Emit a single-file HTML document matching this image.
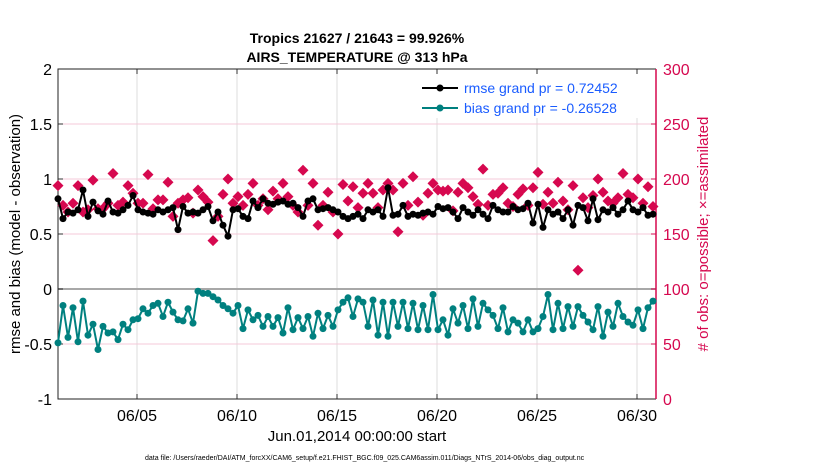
<!DOCTYPE html>
<html><head><meta charset="utf-8"><style>
body{margin:0;background:#fff}
svg text{font-family:"Liberation Sans",Arial,sans-serif}
</style></head><body>
<svg id="chart" width="830" height="470" xmlns="http://www.w3.org/2000/svg">
<rect width="830" height="470" fill="#fff"/>
<text x="357" y="43" text-anchor="middle" font-size="14" font-weight="bold">Tropics 21627 / 21643 = 99.926%</text>
<text x="357" y="62" text-anchor="middle" font-size="14" font-weight="bold">AIRS_TEMPERATURE @ 313 hPa</text>
<g id="grid"></g>
<g id="axes"></g>
<g id="series"></g>
<text transform="translate(20,234) rotate(-90)" text-anchor="middle" font-size="15">rmse and bias (model - observation)</text>
<text transform="translate(708,234) rotate(-90)" text-anchor="middle" font-size="15" fill="#d6084f"># of obs: o=possible; ×=assimilated</text>
<text x="357" y="441" text-anchor="middle" font-size="15">Jun.01,2014 00:00:00 start</text>
<text x="145" y="460" font-size="7">data file: /Users/raeder/DAI/ATM_forcXX/CAM6_setup/f.e21.FHIST_BGC.f09_025.CAM6assim.011/Diags_NTrS_2014-06/obs_diag_output.nc</text>
<g>
<rect x="417" y="74" width="236" height="44" fill="#fff" stroke="none"/>
<line x1="422" y1="88" x2="458" y2="88" stroke="#000" stroke-width="2"/><circle cx="440" cy="88" r="3.5" fill="#000"/>
<text x="464" y="93" font-size="14" fill="#1a5cff">rmse grand pr = 0.72452</text>
<line x1="422" y1="108" x2="458" y2="108" stroke="#00807f" stroke-width="2"/><circle cx="440" cy="108" r="3.5" fill="#00807f"/>
<text x="464" y="113" font-size="14" fill="#1a5cff">bias grand pr = -0.26528</text>
</g>
</svg>
<script>
const rmse=[0.82,0.64,0.70,0.69,0.72,0.90,0.66,0.79,0.71,0.68,0.80,0.70,0.69,0.72,0.76,0.85,0.72,0.70,0.69,0.68,0.72,0.70,0.72,0.74,0.54,0.75,0.69,0.70,0.69,0.72,
0.75,0.62,0.70,0.58,0.48,0.72,0.73,0.66,0.64,0.80,0.74,0.82,0.78,0.77,0.79,0.80,0.77,0.78,0.74,0.66,0.80,0.82,0.72,0.73,0.74,0.72,0.70,0.66,0.64,0.66,
0.68,0.64,0.72,0.70,0.72,0.66,0.92,0.67,0.68,0.76,0.66,0.68,0.67,0.69,0.70,0.68,0.75,0.73,0.74,0.70,0.64,0.74,0.70,0.67,0.72,0.68,0.64,0.76,0.72,0.70,
0.70,0.75,0.72,0.73,0.78,0.60,0.77,0.56,0.72,0.68,0.70,0.64,0.72,0.58,0.76,0.74,0.62,0.82,0.63,0.72,0.70,0.74,0.68,0.72,0.80,0.72,0.70,0.74,0.67,0.68];
const bias=[-0.49,-0.15,-0.44,-0.17,-0.48,-0.11,-0.42,-0.32,-0.55,-0.34,-0.40,-0.39,-0.46,-0.32,-0.37,-0.28,-0.27,-0.18,-0.22,-0.15,-0.13,-0.25,-0.12,-0.21,-0.28,-0.29,-0.18,-0.31,-0.02,-0.04,-0.04,
-0.07,-0.10,-0.15,-0.18,-0.22,-0.15,-0.36,-0.19,-0.28,-0.24,-0.34,-0.25,-0.34,-0.26,-0.40,-0.17,-0.37,-0.26,-0.36,-0.25,-0.43,-0.22,-0.36,-0.24,-0.34,-0.19,-0.12,-0.08,-0.25,-0.09,
-0.12,-0.34,-0.10,-0.42,-0.12,-0.43,-0.12,-0.34,-0.12,-0.36,-0.13,-0.37,-0.15,-0.37,-0.05,-0.37,-0.28,-0.42,-0.18,-0.31,-0.15,-0.36,-0.09,-0.34,-0.13,-0.19,-0.24,-0.36,-0.17,-0.39,
-0.28,-0.31,-0.39,-0.28,-0.39,-0.36,-0.25,-0.05,-0.37,-0.13,-0.36,-0.16,-0.34,-0.16,-0.24,-0.30,-0.37,-0.16,-0.43,-0.21,-0.34,-0.13,-0.25,-0.30,-0.33,-0.19,-0.36,-0.17,-0.11];
const nobs=[194,176,170,178,194,170,172,199,173,173,178,205,176,179,194,187,178,178,204,173,181,181,197,166,178,181,183,169,190,184,179,
144,166,186,200,178,184,176,186,196,176,182,172,189,182,196,184,176,170,208,176,196,158,176,188,170,150,195,180,193,174,
187,196,187,174,190,196,190,152,196,176,202,179,167,187,196,190,189,190,171,188,196,192,184,177,209,176,186,187,192,178,
175,186,191,176,192,206,177,188,178,197,180,172,194,117,183,174,185,200,188,180,178,183,205,186,183,200,178,193,175];
const xTickLabels=["06/05","06/10","06/15","06/20","06/25","06/30"];
const xTickDays=[4,9,14,19,24,29];
const yTicks=[2,1.5,1,0.5,0,-0.5,-1];
const y2Ticks=[300,250,200,150,100,50,0];
const stepDays=0.25;

const NS="http://www.w3.org/2000/svg";
const L=58,R=656,T=69,B=399;
const xs=d=>57+d*20;
const ys=v=>289-v*110;
const y2s=n=>399-n*1.1;
function mk(tag,attrs,parent){const e=document.createElementNS(NS,tag);for(const k in attrs)e.setAttribute(k,attrs[k]);parent.appendChild(e);return e;}
const grid=document.getElementById('grid'),axes=document.getElementById('axes'),ser=document.getElementById('series');
xTickDays.forEach((d,i)=>{
  const l=mk('line',{x1:xs(d),x2:xs(d),y1:T,y2:B,stroke:'#dcdcdc','stroke-width':1},grid);
  
  
  const tk=mk('line',{x1:xs(d),x2:xs(d),y1:B,y2:B-5,stroke:'#333'},axes);
  
  
  const tk2=mk('line',{x1:xs(d),x2:xs(d),y1:T,y2:T+5,stroke:'#333'},axes);
  
  
  const t=mk('text',{x:xs(d),y:B+22,'text-anchor':'middle','font-size':16},axes);
  t.textContent=xTickLabels[i];
  
  
});
yTicks.forEach(v=>{
  if(v!==2&&v!==-1&&v!==0){
    const g=mk('line',{x1:L,x2:R,y1:ys(v),y2:ys(v),stroke:'#f5c8d8','stroke-width':1},grid);
    
    
  }
  const tk=mk('line',{x1:L,x2:L+5,y1:ys(v),y2:ys(v),stroke:'#333'},axes);
  
  
  const t=mk('text',{x:L-6,y:ys(v)+6,'text-anchor':'end','font-size':16},axes);
  t.textContent=String(v);
  
  
});
const zl=mk('line',{x1:L,x2:R,y1:ys(0),y2:ys(0),stroke:'#a8a8a8','stroke-width':2},grid);


y2Ticks.forEach(n=>{
  const tk=mk('line',{x1:R,x2:R-5,y1:y2s(n),y2:y2s(n),stroke:'#d6084f'},axes);
  
  
  const t=mk('text',{x:R+7,y:y2s(n)+6,'font-size':16,fill:'#d6084f'},axes);
  t.textContent=String(n);
  
  
});
const ax=mk('path',{d:`M${R},${T}H${L}V${B}H${R}`,fill:'none',stroke:'#222','stroke-width':1},axes);


const ax2=mk('line',{x1:R,x2:R,y1:T,y2:B,stroke:'#d6084f','stroke-width':1.5},axes);



nobs.forEach((n,i)=>{
  const x=xs(i*stepDays)+1,y=y2s(n);
  const d=mk('path',{d:`M${x},${y-5.5}L${x+5.5},${y}L${x},${y+5.5}L${x-5.5},${y}Z`,fill:'#d6084f'},ser);
  
  
});
function drawLine(arr,color,name){
  const p=mk('polyline',{points:arr.map((v,i)=>xs(i*stepDays)+1+','+ys(v)).join(' '),fill:'none',stroke:color,'stroke-width':2},ser);
  
  
  arr.forEach((v,i)=>{
    const c=mk('circle',{cx:xs(i*stepDays)+1,cy:ys(v),r:3.5,fill:color},ser);
    
    
  });
}
drawLine(rmse,'#000','rmse');
drawLine(bias,'#00807f','bias');
</script>
</body></html>
